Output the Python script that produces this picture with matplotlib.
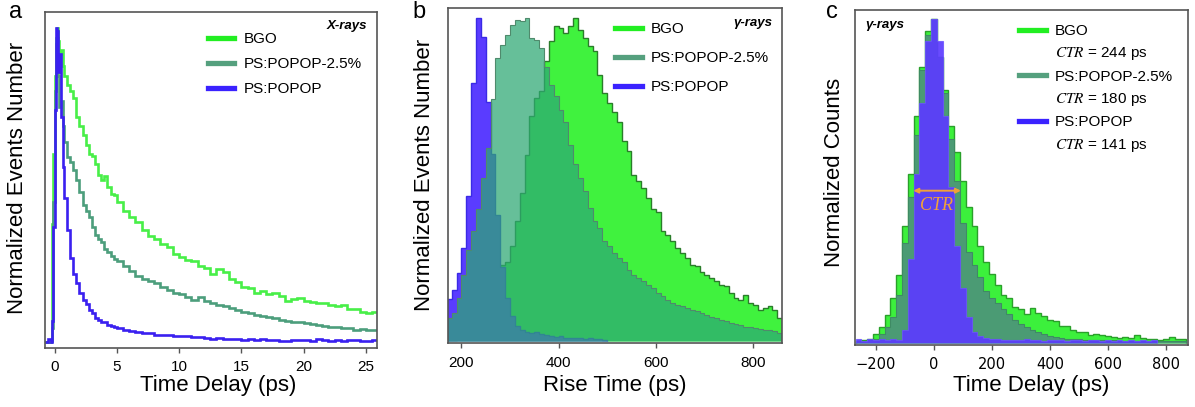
import numpy as np
import matplotlib
matplotlib.use("Agg")
import matplotlib.pyplot as plt
from matplotlib.lines import Line2D

plt.rcParams["font.family"] = ["Liberation Sans", "DejaVu Sans"]
plt.rcParams["mathtext.fontset"] = "stix"

names = ["BGO", "PS:POPOP-2.5%", "PS:POPOP"]
ctr_ps = [244, 180, 141]

# panel a - X-ray decay curves (bin starts in ps, normalized counts)
delay_a = [-0.75, -0.5, -0.3, -0.2, -0.1, 0.0, 0.1, 0.2, 0.3, 0.4, 0.5, 0.65, 0.8,
           1.0, 1.25, 1.5, 1.75, 2.0, 2.25, 2.5, 2.75, 3.0, 3.25, 3.5, 3.75, 4.0,
           4.25, 4.5, 4.75, 5.0, 5.5, 6.0, 6.5, 7.0, 7.5, 8.0, 8.5, 9.0, 9.5, 10.0,
           10.5, 11.0, 11.5, 12.0, 12.5, 13.0, 13.5, 14.0, 14.5, 15.0, 15.5, 16.0,
           16.5, 17.0, 17.5, 18.0, 18.5, 19.0, 19.5, 20.0, 20.5, 21.0, 21.5, 22.0,
           22.5, 23.0, 23.5, 24.0, 24.5, 25.0, 25.5]
delay_end = 26.0
decay_bgo = [0.005, 0.005, 0.01, 0.38, 0.60, 0.85, 0.97, 1.0, 0.96, 0.92, 0.93, 0.88, 0.85,
             0.82, 0.80, 0.78, 0.72, 0.69, 0.66, 0.63, 0.60, 0.595, 0.57, 0.535, 0.52, 0.53,
             0.495, 0.475, 0.47, 0.45, 0.42, 0.40, 0.385, 0.36, 0.34, 0.33, 0.315, 0.305, 0.285, 0.275,
             0.265, 0.262, 0.245, 0.24, 0.22, 0.235, 0.225, 0.205, 0.195, 0.18, 0.175, 0.16,
             0.165, 0.155, 0.16, 0.15, 0.135, 0.14, 0.143, 0.135, 0.132, 0.128, 0.127, 0.12,
             0.118, 0.122, 0.11, 0.108, 0.10, 0.095, 0.098]
decay_25 = [0.005, 0.005, 0.008, 0.05, 0.45, 0.80, 0.95, 0.97, 0.85, 0.75, 0.77, 0.69, 0.64,
            0.59, 0.575, 0.55, 0.52, 0.48, 0.44, 0.42, 0.40, 0.37, 0.345, 0.33, 0.32, 0.30,
            0.29, 0.277, 0.266, 0.26, 0.245, 0.23, 0.215, 0.205, 0.198, 0.19, 0.18, 0.17, 0.16, 0.158,
            0.148, 0.138, 0.146, 0.135, 0.127, 0.122, 0.118, 0.112, 0.106, 0.10, 0.097, 0.09,
            0.086, 0.083, 0.079, 0.074, 0.072, 0.068, 0.066, 0.063, 0.061, 0.058, 0.056, 0.053,
            0.052, 0.049, 0.047, 0.043, 0.044, 0.041, 0.043]
decay_popop = [0.005, 0.012, 0.004, 0.07, 0.37, 0.74, 1.0, 0.99, 0.86, 0.92, 0.72, 0.56, 0.46,
               0.36, 0.27, 0.22, 0.19, 0.16, 0.137, 0.125, 0.105, 0.095, 0.08, 0.074, 0.068, 0.069,
               0.059, 0.054, 0.052, 0.048, 0.043, 0.04, 0.035, 0.031, 0.033, 0.027, 0.026, 0.025, 0.024, 0.022,
               0.023, 0.02, 0.019, 0.018, 0.014, 0.016, 0.013, 0.012, 0.014, 0.011, 0.012, 0.009,
               0.012, 0.01, 0.011, 0.008, 0.006, 0.01, 0.009, 0.011, 0.008, 0.012, 0.009, 0.007,
               0.01, 0.008, 0.011, 0.009, 0.006, 0.007, 0.011]

# panel b - rise time histograms, 10 ps bins from 170 ps
rise_start = 170
rise_bin = 10
rise_bgo = [0.003, 0.004, 0.006, 0.008, 0.012, 0.02, 0.035, 0.06, 0.10, 0.15, 0.20, 0.235,
            0.245, 0.294, 0.371, 0.459, 0.577, 0.696, 0.753, 0.773, 0.866, 0.928, 0.974, 0.969,
            0.954, 0.974, 1.0, 0.964, 0.938, 0.912, 0.897, 0.825, 0.768, 0.737, 0.71, 0.68,
            0.62, 0.59, 0.515, 0.495, 0.474, 0.443, 0.41, 0.40, 0.34, 0.33, 0.31, 0.29,
            0.273, 0.258, 0.237, 0.232, 0.216, 0.206, 0.196, 0.186, 0.175, 0.17, 0.15, 0.134,
            0.129, 0.144, 0.119, 0.113, 0.098, 0.103, 0.108, 0.098, 0.072]
rise_25 = [0.072, 0.088, 0.134, 0.206, 0.283, 0.34, 0.41, 0.505, 0.598, 0.75, 0.876, 0.918,
           0.948, 0.98, 0.995, 0.99, 1.0, 0.938, 0.933, 0.907, 0.85, 0.794, 0.758, 0.716,
           0.68, 0.608, 0.55, 0.505, 0.464, 0.412, 0.371, 0.35, 0.31, 0.294, 0.273, 0.258,
           0.247, 0.222, 0.206, 0.196, 0.186, 0.175, 0.165, 0.15, 0.139, 0.129, 0.119, 0.113,
           0.108, 0.103, 0.098, 0.093, 0.088, 0.082, 0.077, 0.072, 0.067, 0.062, 0.057, 0.054,
           0.052, 0.046, 0.043, 0.041, 0.039, 0.036, 0.034, 0.031, 0.026]
rise_popop = [0.13, 0.16, 0.21, 0.29, 0.45, 0.80, 1.0, 0.94, 0.74, 0.58, 0.39, 0.23,
              0.135, 0.078, 0.047, 0.036, 0.03, 0.026, 0.029, 0.022, 0.019, 0.017, 0.014, 0.016,
              0.012, 0.011, 0.012, 0.009, 0.008, 0.009, 0.006, 0.007, 0.005]

# panel c - coincidence time histograms, 20 ps bins from -270 ps
ctr_start = -270
ctr_bin = 20
ctr_bgo = [0.008, 0.01, 0.012, 0.03, 0.05, 0.088, 0.14, 0.21, 0.36, 0.52, 0.70, 0.85, 0.96,
           1.0, 0.88, 0.78, 0.67, 0.59, 0.50, 0.42, 0.36, 0.30, 0.25, 0.215, 0.18, 0.15,
           0.14, 0.113, 0.105, 0.09, 0.11, 0.092, 0.085, 0.072, 0.07, 0.055, 0.052, 0.04,
           0.036, 0.035, 0.026, 0.028, 0.026, 0.022, 0.02, 0.017, 0.02, 0.018, 0.026, 0.016,
           0.015, 0.012, 0.011, 0.014, 0.02, 0.014, 0.013]
ctr_25 = [0.006, 0.008, 0.01, 0.013, 0.03, 0.05, 0.08, 0.15, 0.308, 0.45, 0.64, 0.84, 0.95,
          1.0, 0.88, 0.77, 0.63, 0.50, 0.37, 0.28, 0.24, 0.205, 0.16, 0.14, 0.125, 0.105,
          0.09, 0.072, 0.06, 0.05, 0.042, 0.036, 0.028, 0.022, 0.02, 0.017, 0.015, 0.013,
          0.012, 0.01, 0.01, 0.009, 0.009, 0.008, 0.009, 0.008, 0.008, 0.007, 0.008, 0.007,
          0.008, 0.007, 0.007, 0.007, 0.006, 0.007, 0.006]
ctr_popop = [0.012, 0.008, 0.015, 0.01, 0.012, 0.009, 0.012, 0.01, 0.041, 0.26, 0.52, 0.74, 0.93,
             1.0, 0.93, 0.70, 0.48, 0.30, 0.17, 0.08, 0.036, 0.022, 0.016, 0.014, 0.012, 0.01,
             0.011, 0.009, 0.01, 0.012, 0.009, 0.01, 0.008, 0.011, 0.009, 0.01, 0.008, 0.009,
             0.011, 0.008, 0.009, 0.01, 0.008, 0.009, 0.008, 0.01, 0.008, 0.009, 0.008, 0.009,
             0.008, 0.009]

# colours
line_cols = ["#48ef48", "#4c9e7c", "#3a20f0"]
spine_col = "#555555"
orange = "#f0a03a"


def edges(start, width, n):
	return start + width * np.arange(n + 1)


def style_axes(ax, xlim, ylim, xticks, tick_font=None):
	ax.set_xlim(*xlim)
	ax.set_ylim(*ylim)
	ax.set_xticks(xticks)
	ax.set_yticks([])
	for s in ax.spines.values():
		s.set_color(spine_col)
		s.set_linewidth(1.2)
	ax.tick_params(axis="x", direction="out", length=3.5, width=1.0, color=spine_col,
				   labelsize=11, pad=5)
	if tick_font:
		for lab in ax.get_xticklabels():
			lab.set_fontfamily(tick_font)
			lab.set_fontsize(10.5)


fig = plt.figure(figsize=(11.95, 4.07), dpi=100)
ax_a = fig.add_axes([0.0377, 0.145, 0.2778, 0.8256])
ax_b = fig.add_axes([0.3751, 0.1572, 0.279, 0.8223])
ax_c = fig.add_axes([0.7155, 0.1523, 0.2789, 0.823])

# ---- panel a
edges_a = np.append(delay_a, delay_end)
for vals, col in zip([decay_bgo, decay_25, decay_popop], line_cols):
	ax_a.stairs(vals, edges_a, baseline=None, color=col, lw=1.9)
style_axes(ax_a, (-0.76, 25.9), (-0.015, 1.052), [0, 5, 10, 15, 20, 25])
handles = [Line2D([], [], color=c, lw=3.8) for c in ["#22ee22", "#55a07e", "#3a22ff"]]
ax_a.legend(handles, names, loc="upper left", bbox_to_anchor=(0.49, 0.94), frameon=False,
			fontsize=11, handlelength=1.75, handletextpad=0.6, labelspacing=0.72,
			borderpad=0, borderaxespad=0)
ax_a.text(0.97, 0.958, "X-rays", transform=ax_a.transAxes, ha="right", va="center",
		  fontsize=9.5, fontweight="bold", style="italic")

# ---- panel b
ax_b.stairs(rise_bgo, edges(rise_start, rise_bin, len(rise_bgo)), fill=True,
			facecolor="#40f23e", edgecolor="#2a7d2a", lw=1.0)
ax_b.stairs(rise_popop, edges(rise_start, rise_bin, len(rise_popop)), fill=True,
			facecolor="#5a3cff", edgecolor="#3a2ae6", lw=1.0)
ax_b.stairs(rise_25, edges(rise_start, rise_bin, len(rise_25)), fill=True,
			facecolor=(46 / 255, 168 / 255, 116 / 255, 0.73), edgecolor="#4f8a6c", lw=0.8)
style_axes(ax_b, (173, 859), (-0.005, 1.03), [200, 400, 600, 800])
ax_b.tick_params(axis="x", pad=6)
ax_b.legend(handles, names, loc="upper left", bbox_to_anchor=(0.5, 0.958), frameon=False,
			fontsize=11, handlelength=1.75, handletextpad=0.6, labelspacing=0.98,
			borderpad=0, borderaxespad=0)
ax_b.text(0.971, 0.956, "γ-rays", transform=ax_b.transAxes, ha="right", va="center",
		  fontsize=9.5, fontweight="bold", style="italic")

# ---- panel c
ax_c.stairs(ctr_bgo, edges(ctr_start, ctr_bin, len(ctr_bgo)), fill=True,
			facecolor="#3cf03c", edgecolor="#2aa02a", lw=1.0)
ax_c.stairs(ctr_25, edges(ctr_start, ctr_bin, len(ctr_25)), fill=True,
			facecolor="#4b9b74", edgecolor="#3f8a64", lw=0.8)
ax_c.stairs(ctr_popop, edges(ctr_start, ctr_bin, len(ctr_popop)), fill=True,
			facecolor=(0.36, 0.23, 1.0, 0.92), edgecolor=(0.42, 0.32, 1.0, 0.8), lw=0.8)
style_axes(ax_c, (-272, 877), (-0.005, 1.026), [-200, 0, 200, 400, 600, 800],
		   tick_font="DejaVu Sans")
ax_c.annotate("", xy=(-71, 0.47), xytext=(93, 0.47),
			  arrowprops=dict(arrowstyle="<|-|>", color=orange, lw=1.4,
							  mutation_scale=7, shrinkA=0, shrinkB=0))
ax_c.text(10, 0.425, "CTR", ha="center", va="center", color=orange, fontsize=13,
		  family="Liberation Serif", style="italic")
ax_c.text(0.03, 0.955, "γ-rays", transform=ax_c.transAxes, ha="left", va="center",
		  fontsize=9.5, fontweight="bold", style="italic")
blank = Line2D([], [], color="none")
c_handles = []
c_labels = []
for h, n, ctr in zip(handles, names, ctr_ps):
	c_handles += [h, blank]
	c_labels += [n, r"$\mathit{CTR}$" + f" = {ctr} ps"]
ax_c.legend(c_handles, c_labels, loc="upper left", bbox_to_anchor=(0.492, 0.958), frameon=False,
			fontsize=11, handlelength=1.75, handletextpad=0.6, labelspacing=0.48,
			borderpad=0, borderaxespad=0)

# axis labels and panel letters
fig.text(0.01506, 0.5627, "Normalized Events Number", rotation=90, ha="center", va="center", fontsize=16)
fig.text(0.3556, 0.571, "Normalized Events Number", rotation=90, ha="center", va="center", fontsize=16)
fig.text(0.6987, 0.5774, "Normalized Counts", rotation=90, ha="center", va="center", fontsize=16)
fig.text(0.1824, 0.0516, "Time Delay (ps)", ha="center", va="center", fontsize=16)
fig.text(0.5142, 0.0516, "Rise Time (ps)", ha="center", va="center", fontsize=16)
fig.text(0.8633, 0.0516, "Time Delay (ps)", ha="center", va="center", fontsize=16)
for x, letter in zip([0.0134, 0.3506, 0.696], ["a", "b", "c"]):
	fig.text(x, 0.997, letter, ha="center", va="top", fontsize=17)

fig.savefig("out.png", dpi=100)
